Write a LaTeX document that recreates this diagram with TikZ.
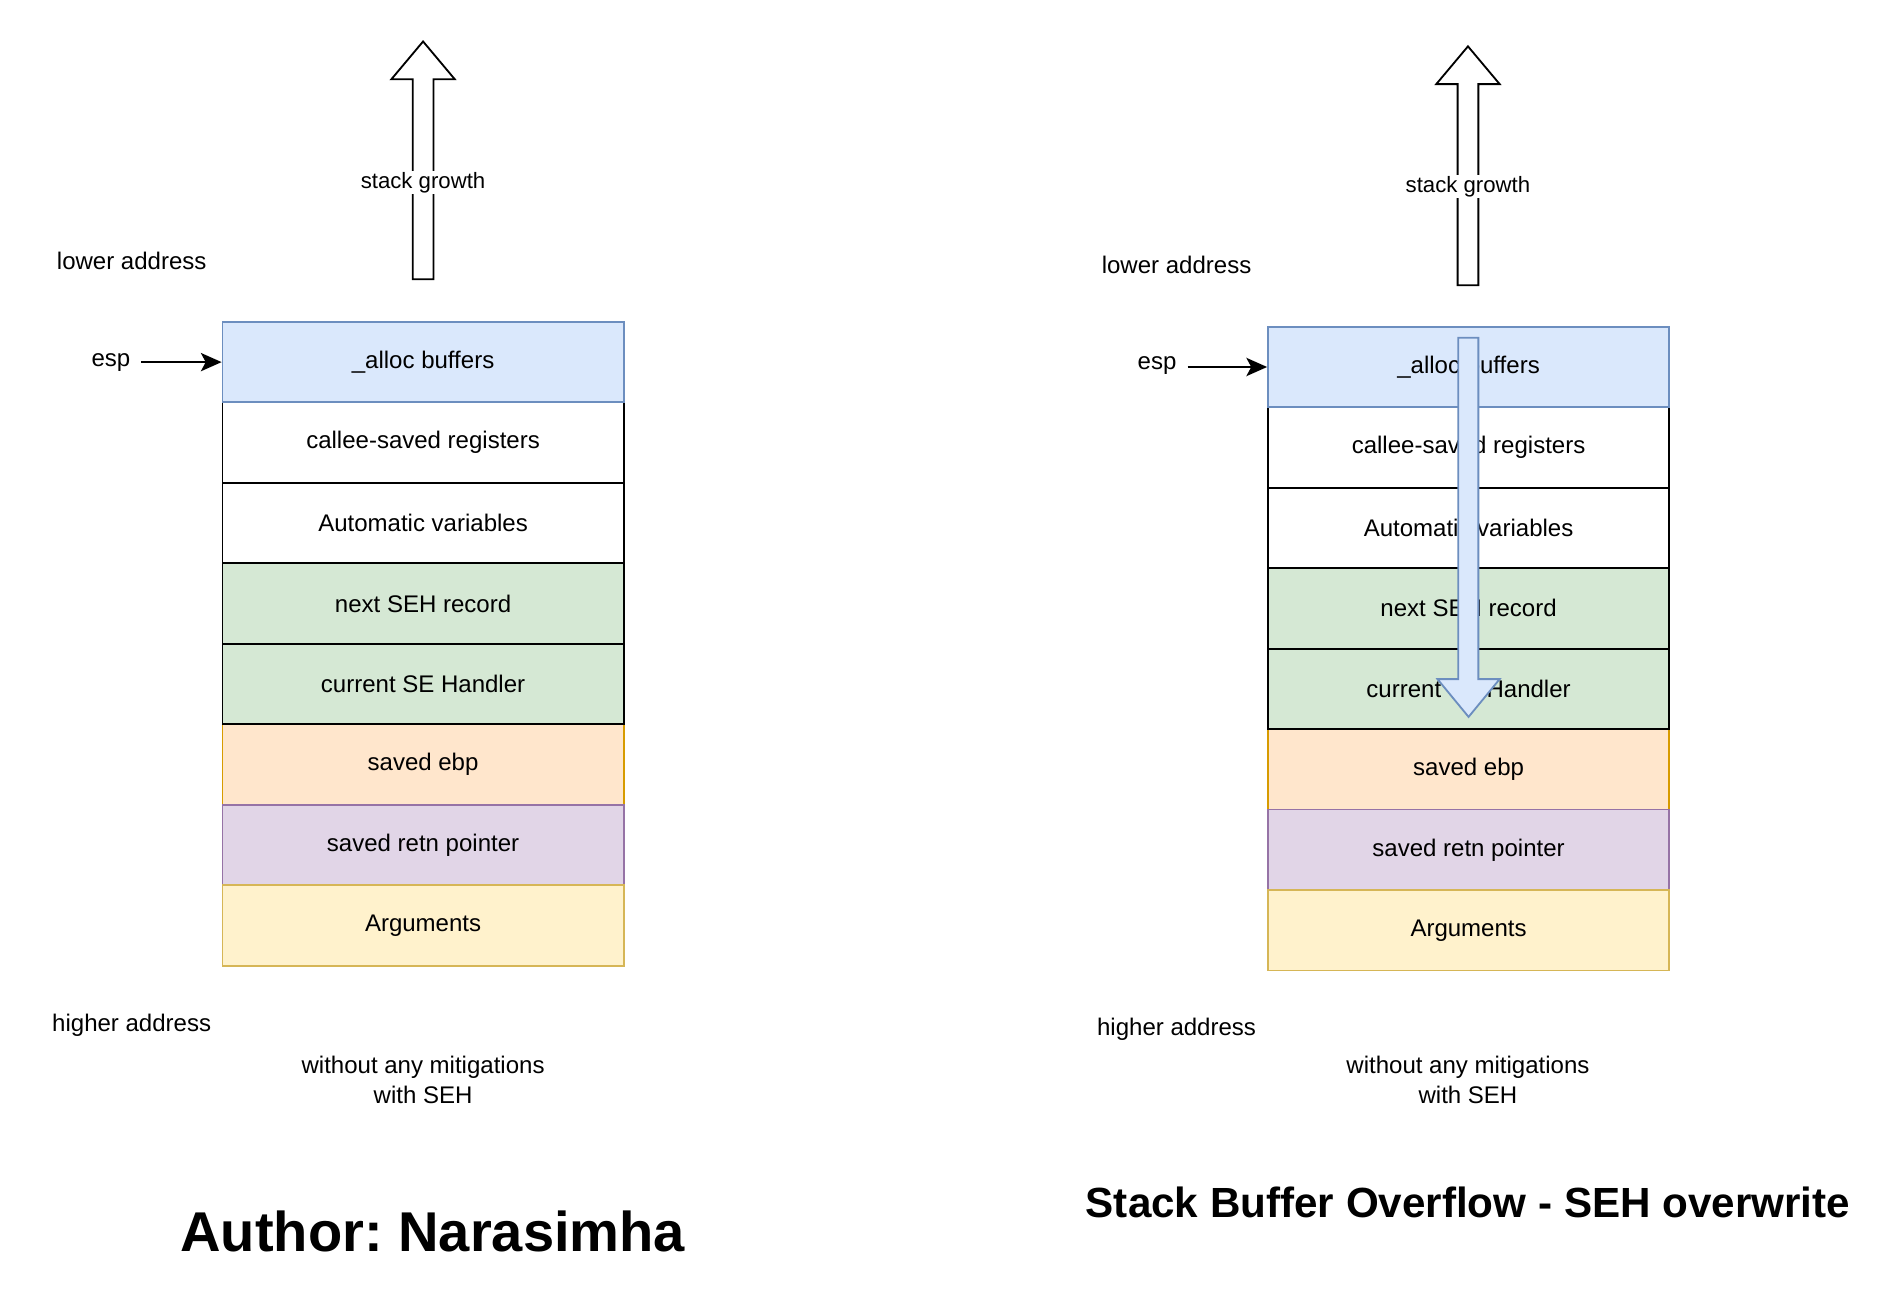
\documentclass[tikz,border=0pt]{standalone}
\usepackage{fontspec}
\setmainfont{Liberation Sans}
\frenchspacing
\usetikzlibrary{arrows.meta}
\definecolor{blueF}{HTML}{DAE8FC}\definecolor{blueS}{HTML}{6C8EBF}
\definecolor{greenF}{HTML}{D5E8D4}
\definecolor{orangeF}{HTML}{FFE6CC}\definecolor{orangeS}{HTML}{D79B00}
\definecolor{purpleF}{HTML}{E1D5E7}\definecolor{purpleS}{HTML}{9673A6}
\definecolor{yellowF}{HTML}{FFF2CC}\definecolor{yellowS}{HTML}{D6B656}
\tikzset{
  cell/.style={rectangle, draw, line width=1.5pt, inner sep=0pt, minimum width=329pt, minimum height=66pt, font=\fontsize{19.7}{23}\selectfont},
  cblue/.style={cell, fill=blueF, draw=blueS},
  cwhite/.style={cell, fill=white, draw=black},
  cgreen/.style={cell, fill=greenF, draw=black},
  corange/.style={cell, fill=orangeF, draw=orangeS},
  cpurple/.style={cell, fill=purpleF, draw=purpleS},
  cyellow/.style={cell, fill=yellowF, draw=yellowS},
  lbl/.style={inner sep=0pt, font=\fontsize{19.7}{24.6}\selectfont, align=center},
  elbl/.style={inner sep=1pt, fill=white, font=\fontsize{18.2}{22}\selectfont},
  blockup/.style={draw=black, fill=white, line width=1.5pt, line join=miter},
  blockdown/.style={draw=blueS, fill=blueF, line width=1.5pt, line join=miter},
  arr/.style={-{Stealth[length=17pt,width=15pt,inset=4pt]}, line width=1.5pt},
  ttl/.style={inner sep=0pt, font=\bfseries}
}
\begin{document}
\begin{tikzpicture}[x=1pt,y=-1pt]
\useasboundingbox (0,0) rectangle (1560,1071);
% ---------- left stack ----------
\node[corange] (ebpL) at (347,627) {saved ebp};
\node[cpurple] (retL) at (347,693) {saved retn pointer};
\node[cyellow] (argL) at (347,759) {Arguments};
\node[cwhite] (calL) at (347,363) {callee-saved registers};
\node[cwhite] (autL) at (347,429) {Automatic variables};
\node[cgreen] (nxtL) at (347,495) {next SEH record};
\node[cgreen] (curL) at (347,561) {current SE Handler};
\node[cblue] (allL) at (347,297) {\_alloc buffers};
% up arrow left
\draw[blockup] (338.5,229) -- (338.5,65) -- (321,65) -- (347,34) -- (373,65) -- (355.5,65) -- (355.5,229) -- cycle;
\node[elbl] (sgL) at (347,150) {stack growth};
\node[lbl] (loL) at (108,214) {lower address};
\node[lbl] (espL) at (91,297) {esp};
\coordinate (espLs) at (116,297);
\draw[arr] (espLs) -- (allL.west);
\node[lbl] (hiL) at (108,841) {higher address};
\node[lbl] (capL) at (347,886) {without any mitigations\\with SEH};
\node[ttl, font=\bfseries\fontsize{46}{50}\selectfont] (auth) at (355,1010) {Author: Narasimha};
% ---------- right stack ----------
\node[corange] (ebpR) at (1204.5,631) {saved ebp};
\node[cpurple] (retR) at (1204.5,697) {saved retn pointer};
\node[cyellow] (argR) at (1204.5,763) {Arguments};
\node[cwhite] (calR) at (1204.5,367) {callee-saved registers};
\node[cwhite] (autR) at (1204.5,433) {Automatic variables};
\node[cgreen] (nxtR) at (1204.5,499) {next SEH record};
\node[cgreen] (curR) at (1204.5,565) {current SE Handler};
\node[cblue] (allR) at (1204.5,301) {\_alloc buffers};
% overflow arrow
\draw[blockdown] (1196,277) -- (1212.5,277) -- (1212.5,557) -- (1230,557) -- (1204.5,588) -- (1179,557) -- (1196,557) -- cycle;
% up arrow right
\draw[blockup] (1195.5,234) -- (1195.5,69) -- (1178,69) -- (1204,38) -- (1230,69) -- (1212.5,69) -- (1212.5,234) -- cycle;
\node[elbl] (sgR) at (1204,153) {stack growth};
\node[lbl] (loR) at (965,217) {lower address};
\node[lbl] (espR) at (949,300) {esp};
\coordinate (espRs) at (974,301);
\draw[arr] (espRs) -- (allR.west);
\node[lbl] (hiR) at (965,844) {higher address};
\node[lbl] (capR) at (1204,886) {without any mitigations\\with SEH};
\node[ttl, font=\bfseries\fontsize{34.6}{38}\selectfont] (title) at (1204,986) {Stack Buffer Overflow - SEH overwrite};
\end{tikzpicture}
\end{document}
